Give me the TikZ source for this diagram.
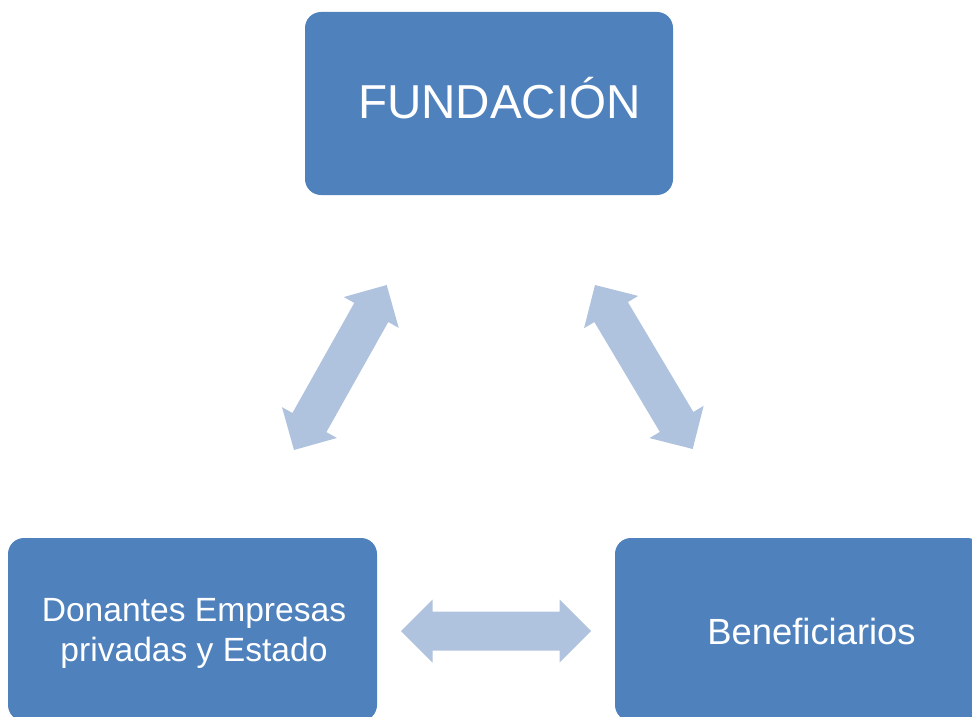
\documentclass[tikz,border=0pt]{standalone}
\usepackage{fontspec}
\setmainfont{Liberation Sans}
\usetikzlibrary{calc}
\definecolor{boxblue}{HTML}{4F81BD}
\definecolor{arrowblue}{HTML}{B0C3DE}
\tikzset{
  box/.style={fill=boxblue, draw=none, rounded corners=16pt, inner sep=0pt},
  boxtext/.style={text=white, inner sep=0pt},
  arrowfill/.style={fill=arrowblue, draw=none}
}
\newcommand\dblarr[2]{%
  \coordinate (ha) at ($(#1)!31.5pt!(#2)$);
  \coordinate (hb) at ($(#2)!31.5pt!(#1)$);
  \fill[arrowfill] (#1) -- ($(ha)!31.5pt!90:(#2)$) -- ($(ha)!19.5pt!90:(#2)$)
    -- ($(hb)!19.5pt!-90:(#1)$) -- ($(hb)!31.5pt!-90:(#1)$) -- (#2)
    -- ($(hb)!31.5pt!90:(#1)$) -- ($(hb)!19.5pt!90:(#1)$)
    -- ($(ha)!19.5pt!-90:(#2)$) -- ($(ha)!31.5pt!-90:(#2)$) -- cycle;
}
\begin{document}
\begin{tikzpicture}[x=1pt, y=-1pt]
\useasboundingbox (0,0) rectangle (972,717);
\clip (0,0) rectangle (972,717);
% boxes
\node[box, minimum width=368pt, minimum height=183pt] (fund) at (489,103.5) {};
\node[box, minimum width=369pt, minimum height=183pt] (don) at (192.5,629.5) {};
\node[box, minimum width=368pt, minimum height=183pt] (ben) at (799,629.5) {};
% texts
\node[boxtext, anchor=base, font=\fontsize{47.6}{56}\selectfont] (fundt) at (499.5,118) {FUNDACIÓN};
\node[boxtext, align=center, font=\fontsize{33.6}{40}\selectfont] (dont) at (194,633.5) {Donantes Empresas\\privadas y Estado};
\node[boxtext, anchor=base, font=\fontsize{36.4}{42}\selectfont] (bent) at (811.5,644) {Beneficiarios};
% arrow end points
\coordinate (a1) at (294,450);
\coordinate (a2) at (386.7,285);
\coordinate (b1) at (595,285);
\coordinate (b2) at (692.7,449);
\coordinate (c1) at (401,631);
\coordinate (c2) at (591,631);
\dblarr{a1}{a2}
\dblarr{b1}{b2}
\dblarr{c1}{c2}
\end{tikzpicture}
\end{document}
